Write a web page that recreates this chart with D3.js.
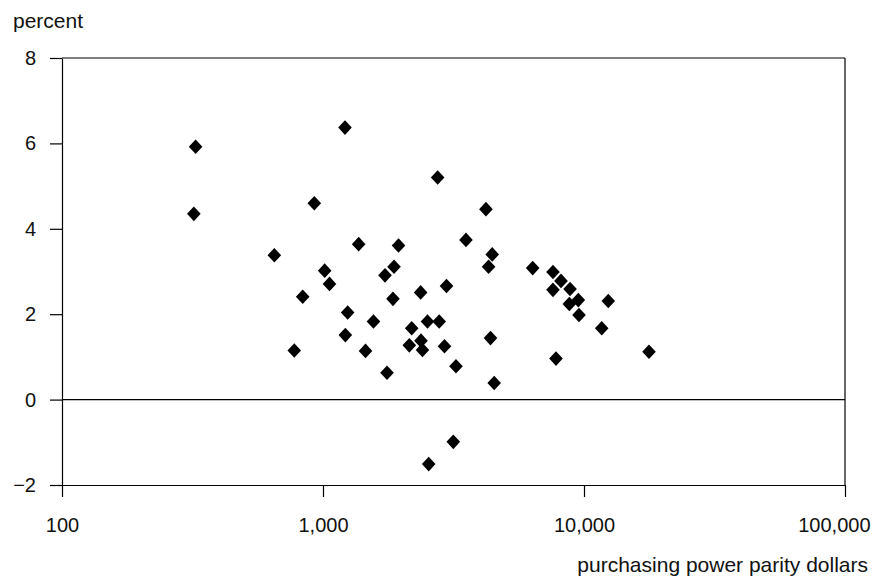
<!DOCTYPE html>
<html>
<head>
<meta charset="utf-8">
<script src="https://cdn.jsdelivr.net/npm/d3@7/dist/d3.min.js"></script>
<style>
  html, body { margin: 0; padding: 0; background: #fff; }
  svg { display: block; }
  text { font-family: "Liberation Sans", Arial, Helvetica, sans-serif; fill: #111; }
</style>
</head>
<body>
<svg id="chart" width="875" height="577"></svg>
<script>
// Income per head (PPP dollars, log scale) against growth rate (percent)
const income = [
  325, 320, 1214, 2750, 926, 4210, 1370, 1947, 3530, 651,
  4450, 4310, 1015, 1728, 1871, 1059, 2973, 836, 1854, 2367,
  1243, 1561, 2187, 2514, 2787, 4383, 1218, 2374, 2141, 2405,
  2921, 776, 1455, 3232, 1759, 4528, 3157, 2541, 6359, 7606,
  8164, 7606, 8842, 9511, 8786, 9568, 12390, 11690, 7810, 17740
];
const growth = [
  5.92, 4.35, 6.37, 5.20, 4.60, 4.46, 3.64, 3.61, 3.74, 3.38,
  3.40, 3.11, 3.02, 2.91, 3.11, 2.71, 2.66, 2.41, 2.36, 2.51,
  2.04, 1.83, 1.67, 1.83, 1.83, 1.44, 1.51, 1.38, 1.27, 1.16,
  1.25, 1.15, 1.14, 0.78, 0.63, 0.39, -0.99, -1.51, 3.08, 2.99,
  2.78, 2.57, 2.59, 2.33, 2.24, 1.98, 2.31, 1.67, 0.96, 1.12
];
const xTicks = [100, 1000, 10000, 100000];
const yTicks = [-2, 0, 2, 4, 6, 8];
const yTitle = "percent";
const xTitle = "purchasing power parity dollars";

const svg = d3.select("#chart");
const margin = { top: 58, right: 30, bottom: 92, left: 62 };
const W = 875 - margin.left - margin.right;
const H = 577 - margin.top - margin.bottom;
const FS = 20;

const x = d3.scaleLog().domain([100, 100000]).range([0, W]);
const y = d3.scaleLinear().domain([-2, 8]).range([H, 0]);

const g = svg.append("g").attr("transform", `translate(${margin.left},${margin.top})`);

// frame: top and right edges
g.append("line").attr("x1", 0).attr("x2", W).attr("y1", 0).attr("y2", 0)
  .attr("stroke", "#000").attr("stroke-width", 1.2);
g.append("line").attr("x1", W).attr("x2", W).attr("y1", 0).attr("y2", H)
  .attr("stroke", "#000").attr("stroke-width", 1.2);

// zero reference line
g.append("line").attr("x1", 0).attr("x2", W).attr("y1", y(0)).attr("y2", y(0))
  .attr("stroke", "#000").attr("stroke-width", 1.2);

const fmt = d3.format(",");

const xAxis = g.append("g").attr("transform", `translate(0,${H})`)
  .call(d3.axisBottom(x).tickValues(xTicks).tickFormat(fmt)
    .tickSize(12).tickSizeOuter(0).tickPadding(20.5));

const yAxis = g.append("g")
  .call(d3.axisLeft(y).tickValues(yTicks)
    .tickFormat(d => d < 0 ? "\u2212" + Math.abs(d) : String(d))
    .tickSize(12).tickSizeOuter(0).tickPadding(14));

[xAxis, yAxis].forEach(a => {
  a.select(".domain").attr("stroke", "#000").attr("stroke-width", 1.2);
  a.selectAll(".tick line").attr("stroke", "#000").attr("stroke-width", 1.2);
  a.selectAll(".tick text")
    .style("font-family", '"Liberation Sans", Arial, sans-serif')
    .style("font-size", FS + "px").attr("fill", "#111");
});

// keep the last x label inside the page
xAxis.selectAll(".tick text").filter(d => d === 100000)
  .attr("text-anchor", "end").attr("x", 25);

// diamond marker, slightly taller than wide
const diamond = {
  draw(ctx, size) {
    const w = 6.8, h = 7.3;
    ctx.moveTo(0, -h); ctx.lineTo(w, 0); ctx.lineTo(0, h); ctx.lineTo(-w, 0); ctx.closePath();
  }
};
const pts = income.map((v, i) => ({ v, r: growth[i] }));
g.append("g").selectAll("path").data(pts).join("path")
  .attr("d", d3.symbol().type(diamond))
  .attr("transform", d => `translate(${x(d.v)},${y(d.r)})`)
  .attr("fill", "#000");

svg.append("text").attr("x", 13).attr("y", 28)
  .style("font-size", "21px").text(yTitle);
svg.append("text").attr("x", 868).attr("y", 572).attr("text-anchor", "end")
  .style("font-size", "21px").text(xTitle);
</script>
</body>
</html>
